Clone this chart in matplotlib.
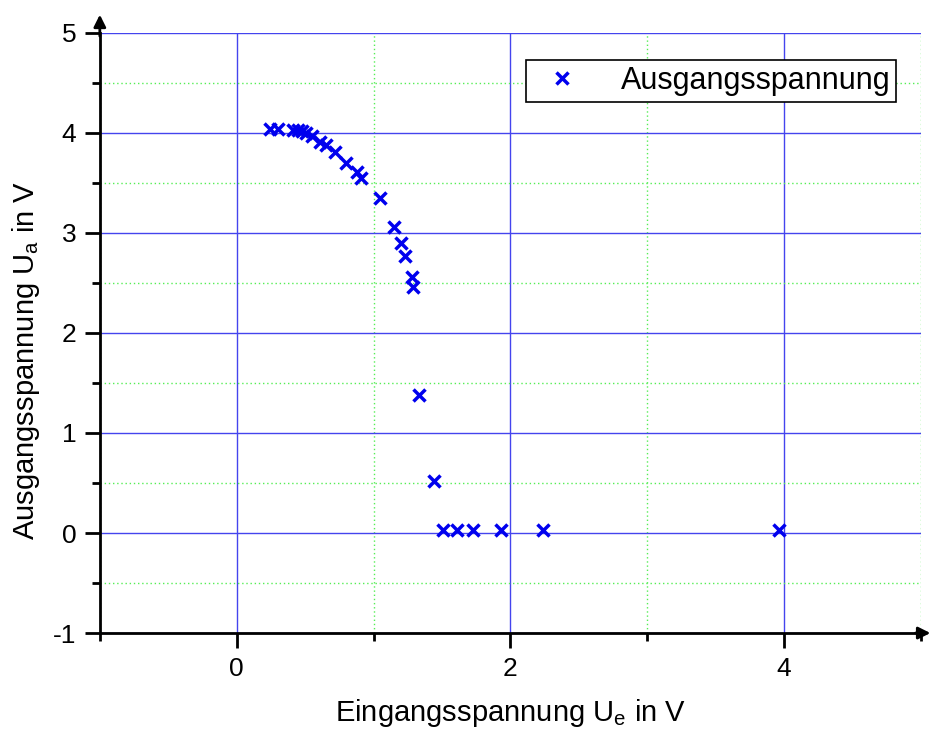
import matplotlib
matplotlib.use("Agg")
import matplotlib.pyplot as plt
from matplotlib.ticker import MultipleLocator

plt.rcParams['font.family'] = ['Liberation Sans', 'DejaVu Sans']
plt.rcParams['mathtext.default'] = 'regular'
plt.rcParams['axes.unicode_minus'] = False

u_e = [0.24, 0.30, 0.41, 0.45, 0.48, 0.51, 0.55, 0.61, 0.65, 0.72, 0.80, 0.88, 0.91,
       1.05, 1.15, 1.20, 1.23, 1.28, 1.29, 1.33, 1.44, 1.51, 1.61, 1.73, 1.93, 2.24, 3.96]
u_a = [4.04, 4.04, 4.03, 4.03, 4.02, 4.00, 3.97, 3.91, 3.88, 3.81, 3.70, 3.61, 3.55,
       3.35, 3.06, 2.90, 2.77, 2.56, 2.46, 1.38, 0.52, 0.03, 0.03, 0.03, 0.03, 0.03, 0.03]

fig = plt.figure(figsize=(9.33, 7.31), dpi=100)
ax = fig.add_axes([0.107, 0.134, 0.880, 0.821])

ax.plot(u_e, u_a, linestyle='none', marker='x', color='#0000ee', markersize=9,
        markeredgewidth=2.5, label='Ausgangsspannung', zorder=3)

ax.set_xlim(-1, 5)
ax.set_ylim(-1, 5)
ax.xaxis.set_major_locator(MultipleLocator(2))
ax.xaxis.set_minor_locator(MultipleLocator(1))
ax.yaxis.set_major_locator(MultipleLocator(1))
ax.yaxis.set_minor_locator(MultipleLocator(0.5))

# Gitter
ax.grid(True, which='major', color='#4444ee', linewidth=1.0, linestyle='-', zorder=0)
ax.grid(True, which='minor', color='#55ee55', linewidth=1.0, linestyle=(0, (1, 2)), zorder=0)
ax.set_axisbelow(True)

for s in ['top', 'right']:
    ax.spines[s].set_visible(False)
for s in ['left', 'bottom']:
    ax.spines[s].set_linewidth(2)

ax.tick_params(which='major', direction='out', length=11, width=2, labelsize=19, pad=6)
ax.tick_params(which='minor', direction='out', length=6, width=2)

# Pfeile an den Achsen
ax.annotate('', xy=(1.015, 0), xytext=(0.99, 0), xycoords='axes fraction',
            arrowprops=dict(arrowstyle='-|>', color='black', lw=2, mutation_scale=18),
            annotation_clip=False)
ax.annotate('', xy=(0, 1.035), xytext=(0, 0.99), xycoords='axes fraction',
            arrowprops=dict(arrowstyle='-|>', color='black', lw=2, mutation_scale=18),
            annotation_clip=False)

ax.set_xlabel('Eingangsspannung U$_e$ in V', fontsize=21, labelpad=12)
ax.set_ylabel('Ausgangsspannung U$_a$ in V', fontsize=21)
ax.yaxis.set_label_coords(-0.07, 0.455)

leg = ax.legend(loc='upper right', bbox_to_anchor=(0.97, 0.955), fontsize=22,
                frameon=True, fancybox=False, edgecolor='black', framealpha=1,
                handletextpad=0.9, borderpad=0.2, handlelength=2.0, borderaxespad=0)
leg.get_frame().set_linewidth(1.2)

fig.savefig('out.png', dpi=100)
